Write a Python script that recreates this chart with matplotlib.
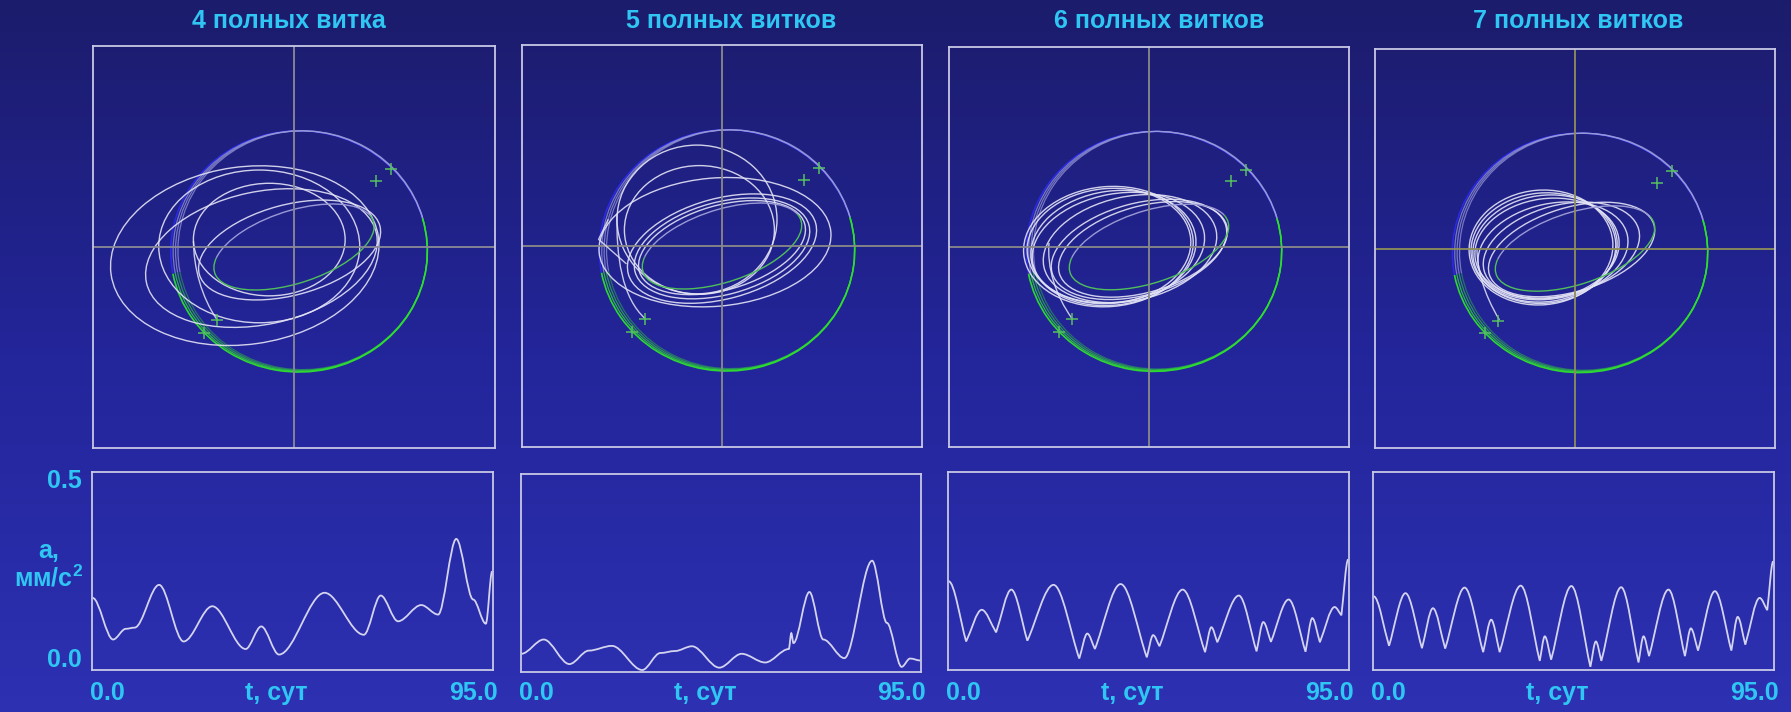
import numpy as np
import matplotlib
matplotlib.use('Agg')
import matplotlib.pyplot as plt
from matplotlib.patches import Arc, Ellipse, PathPatch
from matplotlib.path import Path
from matplotlib.colors import LinearSegmentedColormap

plt.rcParams['font.family'] = ['Liberation Sans', 'DejaVu Sans']
plt.rcParams['mathtext.fontset'] = 'custom'
plt.rcParams['mathtext.rm'] = 'Liberation Sans'
plt.rcParams['mathtext.bf'] = 'Liberation Sans:bold'

W, H = 1791, 712
TEXT = '#2fc6f4'
FRAME = '#c8c8e6'
GREEN = '#2fe02f'
LINE = '#e4e4f6'

titles = ['4 полных витка', '5 полных витков', '6 полных витков', '7 полных витков']
t_label = 't, сут'
t_min_label, t_max_label = '0.0', '95.0'
a_label = 'a,\nмм/с$^{\\mathbf{2}}$'
a_ticks = ['0.5', '0.0']

# ---- orbit plane (units: half-width of panel = 1) ----
# initial orbit: cx, cy, width, height
orbit_start = (0.025, -0.022, 1.277, 1.2)
# final orbit: cx, cy, width, height, angle
orbit_final = (0.0, 0.0, 0.83, 0.36, 18)

# transfer loops per case: cx, cy, width, height, angle
loops_4 = [(-0.245, -0.043, 1.343, 0.883, 8),
           (-0.162, -0.055, 1.17, 0.66, 12),
           (-0.173, 0.003, 1.0, 0.76, 0),
           (-0.123, 0.037, 0.755, 0.56, 0),
           (-0.022, -0.015, 0.93, 0.45, 15)]
loops_5 = [(-0.035, 0.019, 1.163, 0.638, 5),
           (-0.125, 0.132, 0.8, 0.74, 0),
           (-0.113, 0.08, 0.75, 0.64, 0),
           (0.0, -0.013, 0.97, 0.5, 15),
           (0.0, -0.012, 0.9, 0.46, 15),
           (0.0, -0.008, 0.86, 0.42, 16)]
loops_6 = [(-0.203, 0.002, 0.85, 0.6, 5),
           (-0.2, 0.005, 0.82, 0.575, 5),
           (-0.178, -0.005, 0.83, 0.57, 8),
           (-0.153, -0.003, 0.87, 0.54, 10),
           (-0.095, -0.008, 0.88, 0.52, 12),
           (-0.05, -0.012, 0.9, 0.46, 15),
           (-0.03, -0.012, 0.87, 0.43, 16)]
loops_7 = [(-0.17, 0.005, 0.72, 0.575, 5),
           (-0.158, 0.002, 0.725, 0.553, 5),
           (-0.15, 0.0, 0.725, 0.533, 8),
           (-0.14, 0.0, 0.725, 0.5, 8),
           (-0.11, -0.012, 0.76, 0.475, 12),
           (-0.068, -0.008, 0.8, 0.45, 15),
           (-0.017, -0.005, 0.86, 0.42, 17)]
loops = [loops_4, loops_5, loops_6, loops_7]

# entry arcs (cubic Bezier control points)
entry_4 = [(-0.383, -0.361), (-0.46, -0.25), (-0.5, -0.1), (-0.5, 0.03)]
entry_5 = [(-0.383, -0.362), (-0.5, -0.26), (-0.53, -0.05), (-0.525, 0.16)]
entry_6 = [(-0.383, -0.36), (-0.47, -0.24), (-0.51, -0.1), (-0.5, 0.02)]
entry_7 = [(-0.378, -0.358), (-0.46, -0.22), (-0.49, -0.1), (-0.49, 0.0)]
entries = [entry_4, entry_5, entry_6, entry_7]

# kink where the 5-loop trajectory leaves the initial orbit
kink_5_x = [-0.48, -0.617, -0.57]
kink_5_y = [-0.087, 0.033, 0.13]

marker_x = [0.41, 0.485, -0.383, -0.45]
marker_y = [0.328, 0.387, -0.361, -0.426]

cross_colors = ['#8a8a98', '#8a8a8a', '#8a8a8a', '#8e8e5a']

# ---- acceleration vs time (extrema of the curves) ----
acc4_t = [0.16, 5.0, 8.0, 10.1, 15.9, 21.7, 28.5, 36.4, 40.1, 44.3, 55.1, 64.4,
          68.4, 72.5, 78.0, 82.0, 86.3, 90.3, 93.3, 94.8]
acc4_v = [0.182, 0.077, 0.104, 0.107, 0.215, 0.072, 0.161, 0.053, 0.110, 0.039,
          0.195, 0.089, 0.188, 0.123, 0.164, 0.140, 0.331, 0.178, 0.117, 0.249]

acc5_t = [0.08, 5.4, 11.5, 16.1, 21.6, 28.8, 33.1, 36.6, 40.6, 47.1, 52.4, 58.0,
          63.6, 64.2, 64.7, 68.5, 71.8, 76.8, 83.4, 86.9, 90.4, 92.4, 94.9]
acc5_v = [0.046, 0.082, 0.020, 0.054, 0.066, 0.005, 0.048, 0.053, 0.065, 0.011,
          0.046, 0.024, 0.058, 0.098, 0.073, 0.202, 0.082, 0.035, 0.281, 0.124,
          0.013, 0.034, 0.029]

acc6_t = [0.16, 4.3, 8.0, 11.4, 15.0, 18.8, 25.0, 31.1, 33.0, 34.8, 40.9, 47.1,
          48.6, 50.1, 55.6, 60.9, 62.4, 63.8, 68.9, 73.1, 74.7, 76.5, 80.7, 84.7,
          86.3, 88.1, 91.6, 93.2, 94.8]
acc6_v = [0.224, 0.072, 0.152, 0.095, 0.203, 0.074, 0.215, 0.029, 0.092, 0.053,
          0.217, 0.032, 0.088, 0.060, 0.203, 0.045, 0.108, 0.070, 0.188, 0.047,
          0.121, 0.071, 0.178, 0.046, 0.131, 0.070, 0.159, 0.138, 0.279]

acc7_t = [0.16, 3.8, 7.7, 11.6, 14.2, 17.1, 21.7, 26.1, 28.0, 30.0, 35.0, 39.5,
          40.7, 42.2, 47.0, 51.5, 52.8, 54.1, 58.8, 62.9, 64.1, 65.4, 70.0, 73.9,
          75.3, 77.0, 81.0, 84.9, 86.4, 88.2, 91.6, 93.4, 94.8]
acc7_v = [0.186, 0.061, 0.194, 0.055, 0.156, 0.054, 0.208, 0.045, 0.127, 0.045,
          0.213, 0.023, 0.085, 0.026, 0.212, 0.008, 0.072, 0.023, 0.209, 0.019,
          0.085, 0.035, 0.203, 0.035, 0.105, 0.049, 0.199, 0.049, 0.134, 0.064,
          0.182, 0.151, 0.274]

acc_t = [acc4_t, acc5_t, acc6_t, acc7_t]
acc_v = [acc4_v, acc5_v, acc6_v, acc7_v]
sharp_minima = [False, False, True, True]

# panel boxes in pixels: left, top, width, height
top_boxes = [(93, 46, 402, 402), (522, 45, 400, 402), (949, 47, 400, 400), (1375, 49, 400, 399)]
bottom_boxes = [(92, 472, 401, 198), (521, 474, 400, 198), (948, 472, 401, 198), (1373, 472, 401, 198)]
title_x = [289, 731, 1159, 1578]


def rect(x, y, w, h):
    return [x / W, 1 - (y + h) / H, w / W, h / H]


def fx(x):
    return x / W


def fy(y):
    return 1 - y / H


def acc_path(t, v, sharp):
    pts = list(zip(t, v))
    n = len(pts)

    def handle(i, j):
        (x0, y0), (x1, y1) = pts[i], pts[j]
        dx = (x1 - x0) / 3
        low = 0 < i < n - 1 and v[i] < v[i - 1] and v[i] < v[i + 1]
        if sharp and low:
            return (x0 + dx, y0 + (y1 - y0) / 3)
        return (x0 + dx, y0)

    verts = [pts[0]]
    codes = [Path.MOVETO]
    for i in range(n - 1):
        verts += [handle(i, i + 1), handle(i + 1, i), pts[i + 1]]
        codes += [Path.CURVE4] * 3
    return Path(verts, codes)


fig = plt.figure(figsize=(W / 100, H / 100), dpi=100)

# background gradient
bg = fig.add_axes([0, 0, 1, 1], zorder=0)
bg_cmap = LinearSegmentedColormap.from_list('bg', ['#1c1c6c', '#23259a', '#2d31b2'])
bg.imshow(np.linspace(0, 1, 256)[:, None], aspect='auto', cmap=bg_cmap, extent=[0, 1, 0, 1])
bg.axis('off')

for i in range(4):
    # ---- orbit panel ----
    ax = fig.add_axes(rect(*top_boxes[i]), zorder=1)
    ax.patch.set_alpha(0)
    ax.set_xlim(-1, 1)
    ax.set_ylim(-1, 1)
    ax.set_xticks([])
    ax.set_yticks([])
    for s in ax.spines.values():
        s.set_color(FRAME)
        s.set_linewidth(1.3)
    ax.axhline(0, color=cross_colors[i], lw=1.3)
    ax.axvline(0, color=cross_colors[i], lw=1.3)

    cx, cy, w, h = orbit_start
    for k in range(4):
        dw = k * 0.012
        c = (cx + dw / 2, cy + k * 0.002)
        ww, hh = w - dw, h - k * 0.004
        ax.add_patch(Arc(c, ww, hh, theta1=-170, theta2=15, color=GREEN,
                         lw=1.2 if k == 0 else 0.9, alpha=0.95 - 0.18 * k))
        ax.add_patch(Arc(c, ww, hh, theta1=15, theta2=190,
                         color='#2a2af0' if k == 0 else '#9c9cdc',
                         lw=1.1 if k == 0 else 0.9, alpha=0.95 if k == 0 else 0.7))

    for (lx, ly, lw_, lh, ang) in loops[i]:
        ax.add_patch(Ellipse((lx, ly), lw_, lh, angle=ang, fill=False,
                             edgecolor=LINE, lw=1.0, alpha=0.9))

    fx0, fy0, fw, fh, fa = orbit_final
    ax.add_patch(Arc((fx0, fy0), fw, fh, angle=fa, theta1=170, theta2=365,
                     color='#4fbf5a', lw=1.0))
    ax.add_patch(Arc((fx0, fy0), fw, fh, angle=fa, theta1=5, theta2=170,
                     color='#9a9ad6', lw=1.0))

    ent = entries[i]
    ax.add_patch(PathPatch(Path(ent, [Path.MOVETO] + [Path.CURVE4] * 3),
                           fill=False, edgecolor=LINE, lw=1.0, alpha=0.85))
    if i == 1:
        ax.plot(kink_5_x, kink_5_y, color=LINE, lw=1.0, alpha=0.85)

    ax.plot(marker_x, marker_y, '+', color='#55c060', ms=9, mew=1.1)

    # ---- acceleration panel ----
    bx = fig.add_axes(rect(*bottom_boxes[i]), zorder=1)
    bx.patch.set_alpha(0)
    bx.set_xlim(0, 95)
    bx.set_ylim(0, 0.5)
    bx.set_xticks([])
    bx.set_yticks([])
    for s in bx.spines.values():
        s.set_color(FRAME)
        s.set_linewidth(1.3)
    bx.add_patch(PathPatch(acc_path(acc_t[i], acc_v[i], sharp_minima[i]),
                           fill=False, edgecolor='#d4d4f0', lw=1.3))

    # texts
    fig.text(fx(title_x[i]), fy(21), titles[i], ha='center', va='center',
             fontsize=18, fontweight='bold', color=TEXT)
    x, y, w, h = bottom_boxes[i]
    fig.text(fx(x - 2), fy(693), t_min_label, ha='left', va='center',
             fontsize=18, fontweight='bold', color=TEXT)
    fig.text(fx(x + w + 5), fy(693), t_max_label, ha='right', va='center',
             fontsize=18, fontweight='bold', color=TEXT)
    fig.text(fx(x + w / 2 - 16), fy(693), t_label, ha='center', va='center',
             fontsize=18, fontweight='bold', color=TEXT)

fig.text(fx(82), fy(481), a_ticks[0], ha='right', va='center',
         fontsize=18, fontweight='bold', color=TEXT)
fig.text(fx(82), fy(660), a_ticks[1], ha='right', va='center',
         fontsize=18, fontweight='bold', color=TEXT)
fig.text(fx(49), fy(565), a_label, ha='center', va='center', linespacing=1.1,
         fontsize=18, fontweight='bold', color=TEXT)

fig.savefig('out.png', dpi=100)
